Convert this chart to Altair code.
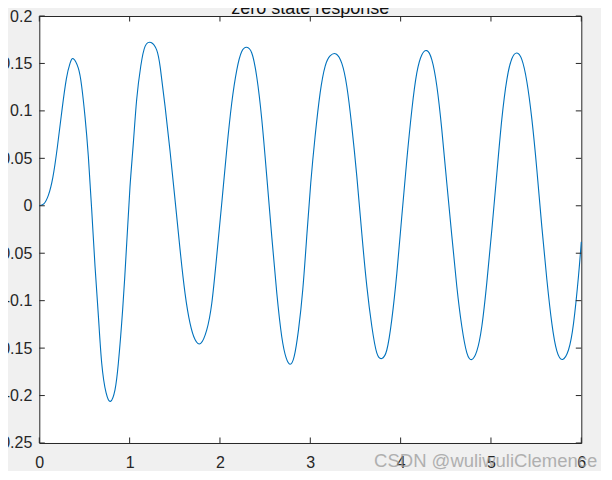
import altair as alt
import pandas as pd

# Curve (t in seconds, response value)
t_vals = [0.000, 0.050, 0.100, 0.150, 0.200, 0.250, 0.300, 0.340, 0.377, 0.432,
          0.469, 0.506, 0.543, 0.580, 0.617, 0.654, 0.691, 0.739, 0.790, 0.838,
          0.875, 0.923, 0.968, 1.004, 1.041, 1.078, 1.123, 1.171, 1.237, 1.300,
          1.340, 1.392, 1.447, 1.503, 1.558, 1.613, 1.669, 1.724, 1.787, 1.853,
          1.909, 1.964, 2.020, 2.075, 2.130, 2.186, 2.241, 2.296, 2.352, 2.407,
          2.463, 2.518, 2.573, 2.629, 2.684, 2.732, 2.776, 2.821, 2.869, 2.917,
          2.961, 3.005, 3.053, 3.109, 3.164, 3.219, 3.286, 3.349, 3.404, 3.459,
          3.515, 3.570, 3.626, 3.681, 3.736, 3.792, 3.847, 3.902, 3.958, 4.013,
          4.068, 4.124, 4.179, 4.234, 4.290, 4.345, 4.401, 4.456, 4.511, 4.567,
          4.622, 4.677, 4.733, 4.788, 4.844, 4.899, 4.954, 5.010, 5.065, 5.120,
          5.176, 5.231, 5.287, 5.342, 5.397, 5.453, 5.508, 5.563, 5.619, 5.674,
          5.729, 5.792, 5.858, 5.914, 5.969, 6.000]
y_vals = [0.000, 0.002, 0.011, 0.030, 0.062, 0.100, 0.134, 0.150, 0.155, 0.145,
          0.126, 0.094, 0.052, -0.004, -0.064, -0.116, -0.166, -0.197, -0.206, -0.194,
          -0.166, -0.109, -0.039, 0.020, 0.066, 0.112, 0.147, 0.168, 0.172, 0.164,
          0.145, 0.105, 0.058, 0.006, -0.046, -0.092, -0.124, -0.141, -0.145, -0.131,
          -0.103, -0.053, 0.003, 0.059, 0.108, 0.143, 0.1625, 0.167, 0.161, 0.136,
          0.091, 0.031, -0.032, -0.092, -0.138, -0.160, -0.167, -0.159, -0.131, -0.088,
          -0.032, 0.024, 0.073, 0.119, 0.147, 0.158, 0.160, 0.150, 0.126, 0.084,
          0.031, -0.029, -0.085, -0.127, -0.155, -0.161, -0.152, -0.120, -0.071, -0.011,
          0.048, 0.101, 0.140, 0.159, 0.1635, 0.154, 0.126, 0.080, 0.024, -0.032,
          -0.085, -0.127, -0.155, -0.162, -0.153, -0.127, -0.081, -0.025, 0.034, 0.091,
          0.133, 0.155, 0.161, 0.154, 0.131, 0.091, 0.038, -0.022, -0.078, -0.124,
          -0.153, -0.162, -0.152, -0.124, -0.074, -0.038]

x_ticks = [0, 1, 2, 3, 4, 5, 6]
y_ticks = [-0.25, -0.2, -0.15, -0.1, -0.05, 0, 0.05, 0.1, 0.15, 0.2]
title_text = ["zero state response"]
watermark_text = ["CSDN @wuliwuliClemence"]

W, H = 542, 427
AX = "#262626"
FONT = "Liberation Sans"

xs = alt.Scale(domain=[0, 6], nice=False, zero=False)
ys = alt.Scale(domain=[-0.25, 0.2], nice=False, zero=False)

x_axis = alt.Axis(
    values=x_ticks, title=None, grid=False, domain=False, ticks=False, tickSize=0,
    labelPadding=12, labelFlush=False, labelOverlap=False,
    labelFontSize=16, labelFont=FONT, labelColor=AX)
y_axis = alt.Axis(
    values=y_ticks, title=None, grid=False, domain=False, ticks=False, tickSize=0,
    labelPadding=7.5, labelFlush=False, labelOverlap=False,
    labelExpr="'' + datum.value",
    labelFontSize=16, labelFont=FONT, labelColor=AX)

curve = pd.DataFrame({"t": t_vals, "y": y_vals})
line = alt.Chart(curve).mark_line(
    color="#0072BD", strokeWidth=1.1, interpolate="natural"
).encode(
    x=alt.X("t:Q", scale=xs, axis=x_axis),
    y=alt.Y("y:Q", scale=ys, axis=y_axis),
)

xt = pd.DataFrame({"t": x_ticks})
yt = pd.DataFrame({"y": y_ticks})
TL = 5.5
top_x = alt.Chart(xt).mark_rule(color=AX, strokeWidth=1).encode(
    x=alt.X("t:Q", scale=xs, axis=x_axis), y=alt.value(0), y2=alt.value(TL))
bot_x = alt.Chart(xt).mark_rule(color=AX, strokeWidth=1).encode(
    x=alt.X("t:Q", scale=xs, axis=x_axis), y=alt.value(H), y2=alt.value(H - TL))
left_y = alt.Chart(yt).mark_rule(color=AX, strokeWidth=1).encode(
    y=alt.Y("y:Q", scale=ys, axis=y_axis), x=alt.value(0), x2=alt.value(TL))
right_y = alt.Chart(yt).mark_rule(color=AX, strokeWidth=1).encode(
    y=alt.Y("y:Q", scale=ys, axis=y_axis), x=alt.value(W), x2=alt.value(W - TL))

title = alt.Chart(pd.DataFrame({"label": title_text})).mark_text(
    font=FONT, fontSize=18, color="#111111", align="center", baseline="alphabetic"
).encode(text="label:N", x=alt.value(W / 2), y=alt.value(-2.5))

wm = alt.Chart(pd.DataFrame({"label": watermark_text})).mark_text(
    font=FONT, fontSize=18.5, color="#9a9a9a", opacity=0.75, align="right",
    baseline="alphabetic"
).encode(text="label:N", x=alt.value(558), y=alt.value(451))

chart = alt.layer(line, top_x, bot_x, left_y, right_y, title, wm).properties(
    width=W, height=H,
    padding={"left": 31.3, "top": 8, "right": 20, "bottom": 28},
    autosize=alt.AutoSizeParams(type="none"),
    background="#f0f0f0",
).configure_view(stroke=AX, strokeWidth=1, fill="white")

chart.save("out.html", embed_options={"renderer": "svg", "actions": False})
